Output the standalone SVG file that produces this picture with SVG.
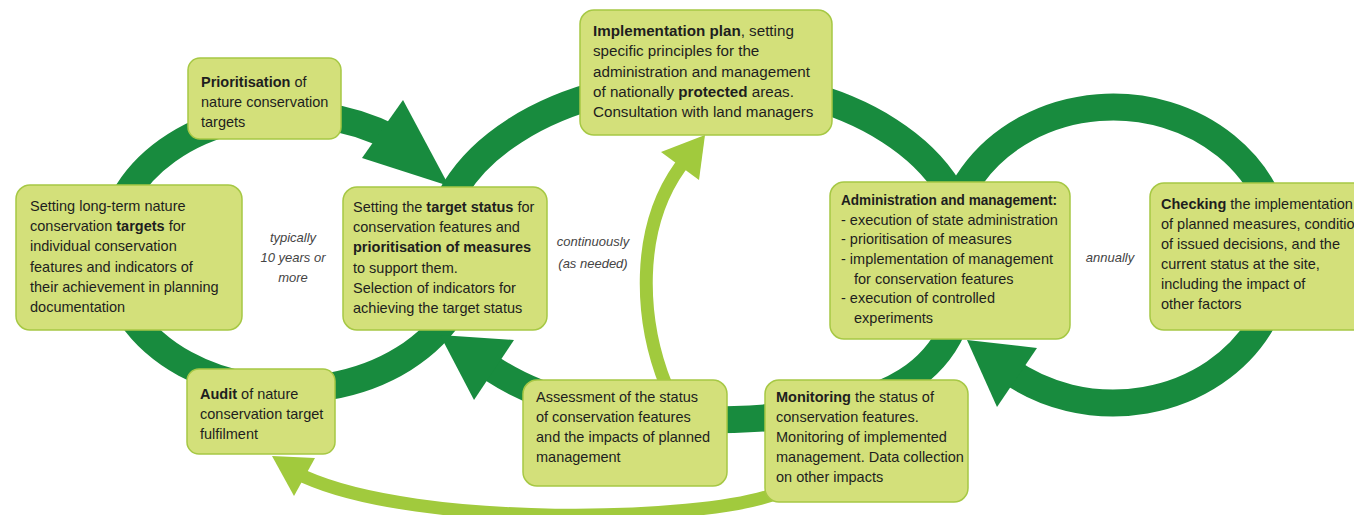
<svg xmlns="http://www.w3.org/2000/svg" width="1354" height="515" viewBox="0 0 1354 515">
<style>
.ring{fill:none;stroke:#188b3e;stroke-width:27}
.head{fill:#188b3e}
.lshaft{fill:none;stroke:#a1ca3d;stroke-width:13}
.lhead{fill:#a1ca3d}
.box{fill:#d3e07a;stroke:#a6c844;stroke-width:1.5}
text{font-family:"Liberation Sans",Arial,sans-serif;font-size:14.5px;fill:#1e1e1e}
.b{font-weight:bold}
.big{font-size:15.2px}
.note{font-style:italic;font-size:13px;fill:#444;text-anchor:middle}
</style>
<rect width="1354" height="515" fill="#ffffff"/>
<g id="connectors">
  <path class="ring" d="M392,138 A180 138 0 1 0 470,252"/>
  <polygon class="head" points="403,100 362,158 449,186"/>
  <path class="ring" d="M437,251 A265 170 0 0 1 967,251 C967,373 893,420 702,420 C610,420 540,400 494,370 L488,366"/>
  <polygon class="head" points="514,340 474,400 440,335"/>
  <path class="ring" d="M1008,370 A167 148 0 1 0 948,233"/>
  <polygon class="head" points="1037,348 997,407 967,340"/>
  <path class="lshaft" d="M666,385 C640,320 635,230 680,167 L683,163"/>
  <polygon class="lhead" points="661,152 699,180 705,135"/>
  <path class="lshaft" d="M775,494 C700,522 420,528 305,477 L301,475"/>
  <polygon class="lhead" points="315,458 294,496 272,456"/>
</g>
<g id="n-prioritisation">
  <rect class="box" x="188" y="58" width="153" height="81" rx="12"/>
  <text x="201" y="87"><tspan class="b">Prioritisation</tspan> of</text>
  <text x="201" y="107">nature conservation</text>
  <text x="201" y="127">targets</text>
</g>
<g id="n-longterm">
  <rect class="box" x="16" y="185" width="226" height="145" rx="14"/>
  <text x="30" y="211">Setting long-term nature</text>
  <text x="30" y="231">conservation <tspan class="b">targets</tspan> for</text>
  <text x="30" y="251">individual conservation</text>
  <text x="30" y="272">features and indicators of</text>
  <text x="30" y="292">their achievement in planning</text>
  <text x="30" y="312">documentation</text>
</g>
<g id="n-target">
  <rect class="box" x="343" y="187" width="204" height="143" rx="14"/>
  <text x="353" y="212">Setting the <tspan class="b">target status</tspan> for</text>
  <text x="353" y="232">conservation features and</text>
  <text x="353" y="252"><tspan class="b">prioritisation of measures</tspan></text>
  <text x="353" y="273">to support them.</text>
  <text x="353" y="293">Selection of indicators for</text>
  <text x="353" y="313">achieving the target status</text>
</g>
<g id="n-implementation">
  <rect class="box" x="580" y="10" width="252" height="125" rx="14"/>
  <text class="big" x="593" y="36"><tspan class="b">Implementation plan</tspan>, setting</text>
  <text class="big" x="593" y="56">specific principles for the</text>
  <text class="big" x="593" y="77">administration and management</text>
  <text class="big" x="593" y="97">of nationally <tspan class="b">protected</tspan> areas.</text>
  <text class="big" x="593" y="117">Consultation with land managers</text>
</g>
<g id="n-admin">
  <rect class="box" x="830" y="182" width="240" height="157" rx="14"/>
  <text x="841" y="205" class="b" style="font-size:14px" textLength="216" lengthAdjust="spacingAndGlyphs">Administration and management:</text>
  <text x="841" y="225">- execution of state administration</text>
  <text x="841" y="244">- prioritisation of measures</text>
  <text x="841" y="264">- implementation of management</text>
  <text x="854" y="284">for conservation features</text>
  <text x="841" y="303">- execution of controlled</text>
  <text x="854" y="323">experiments</text>
</g>
<g id="n-checking">
  <rect class="box" x="1150" y="183" width="230" height="147" rx="14"/>
  <text x="1161" y="209"><tspan class="b">Checking</tspan> the implementation</text>
  <text x="1161" y="229">of planned measures, condition</text>
  <text x="1161" y="249">of issued decisions, and the</text>
  <text x="1161" y="269">current status at the site,</text>
  <text x="1161" y="289">including the impact of</text>
  <text x="1161" y="309">other factors</text>
</g>
<g id="n-audit">
  <rect class="box" x="187" y="369" width="148" height="85" rx="12"/>
  <text x="200" y="399"><tspan class="b">Audit</tspan> of nature</text>
  <text x="200" y="419">conservation target</text>
  <text x="200" y="439">fulfilment</text>
</g>
<g id="n-assessment">
  <rect class="box" x="523" y="380" width="204" height="106" rx="14"/>
  <text x="536" y="402">Assessment of the status</text>
  <text x="536" y="422">of conservation features</text>
  <text x="536" y="442">and the impacts of planned</text>
  <text x="536" y="462">management</text>
</g>
<g id="n-monitoring">
  <rect class="box" x="765" y="380" width="203" height="122" rx="14"/>
  <text x="776" y="402"><tspan class="b">Monitoring</tspan> the status of</text>
  <text x="776" y="422">conservation features.</text>
  <text x="776" y="442">Monitoring of implemented</text>
  <text x="776" y="462">management. Data collection</text>
  <text x="776" y="482">on other impacts</text>
</g>
<g id="labels">
  <text class="note" x="293" y="242">typically</text>
  <text class="note" x="293" y="262">10 years or</text>
  <text class="note" x="293" y="282">more</text>
  <text class="note" x="593" y="246">continuously</text>
  <text class="note" x="593" y="268">(as needed)</text>
  <text class="note" x="1110" y="262">annually</text>
</g>
</svg>
